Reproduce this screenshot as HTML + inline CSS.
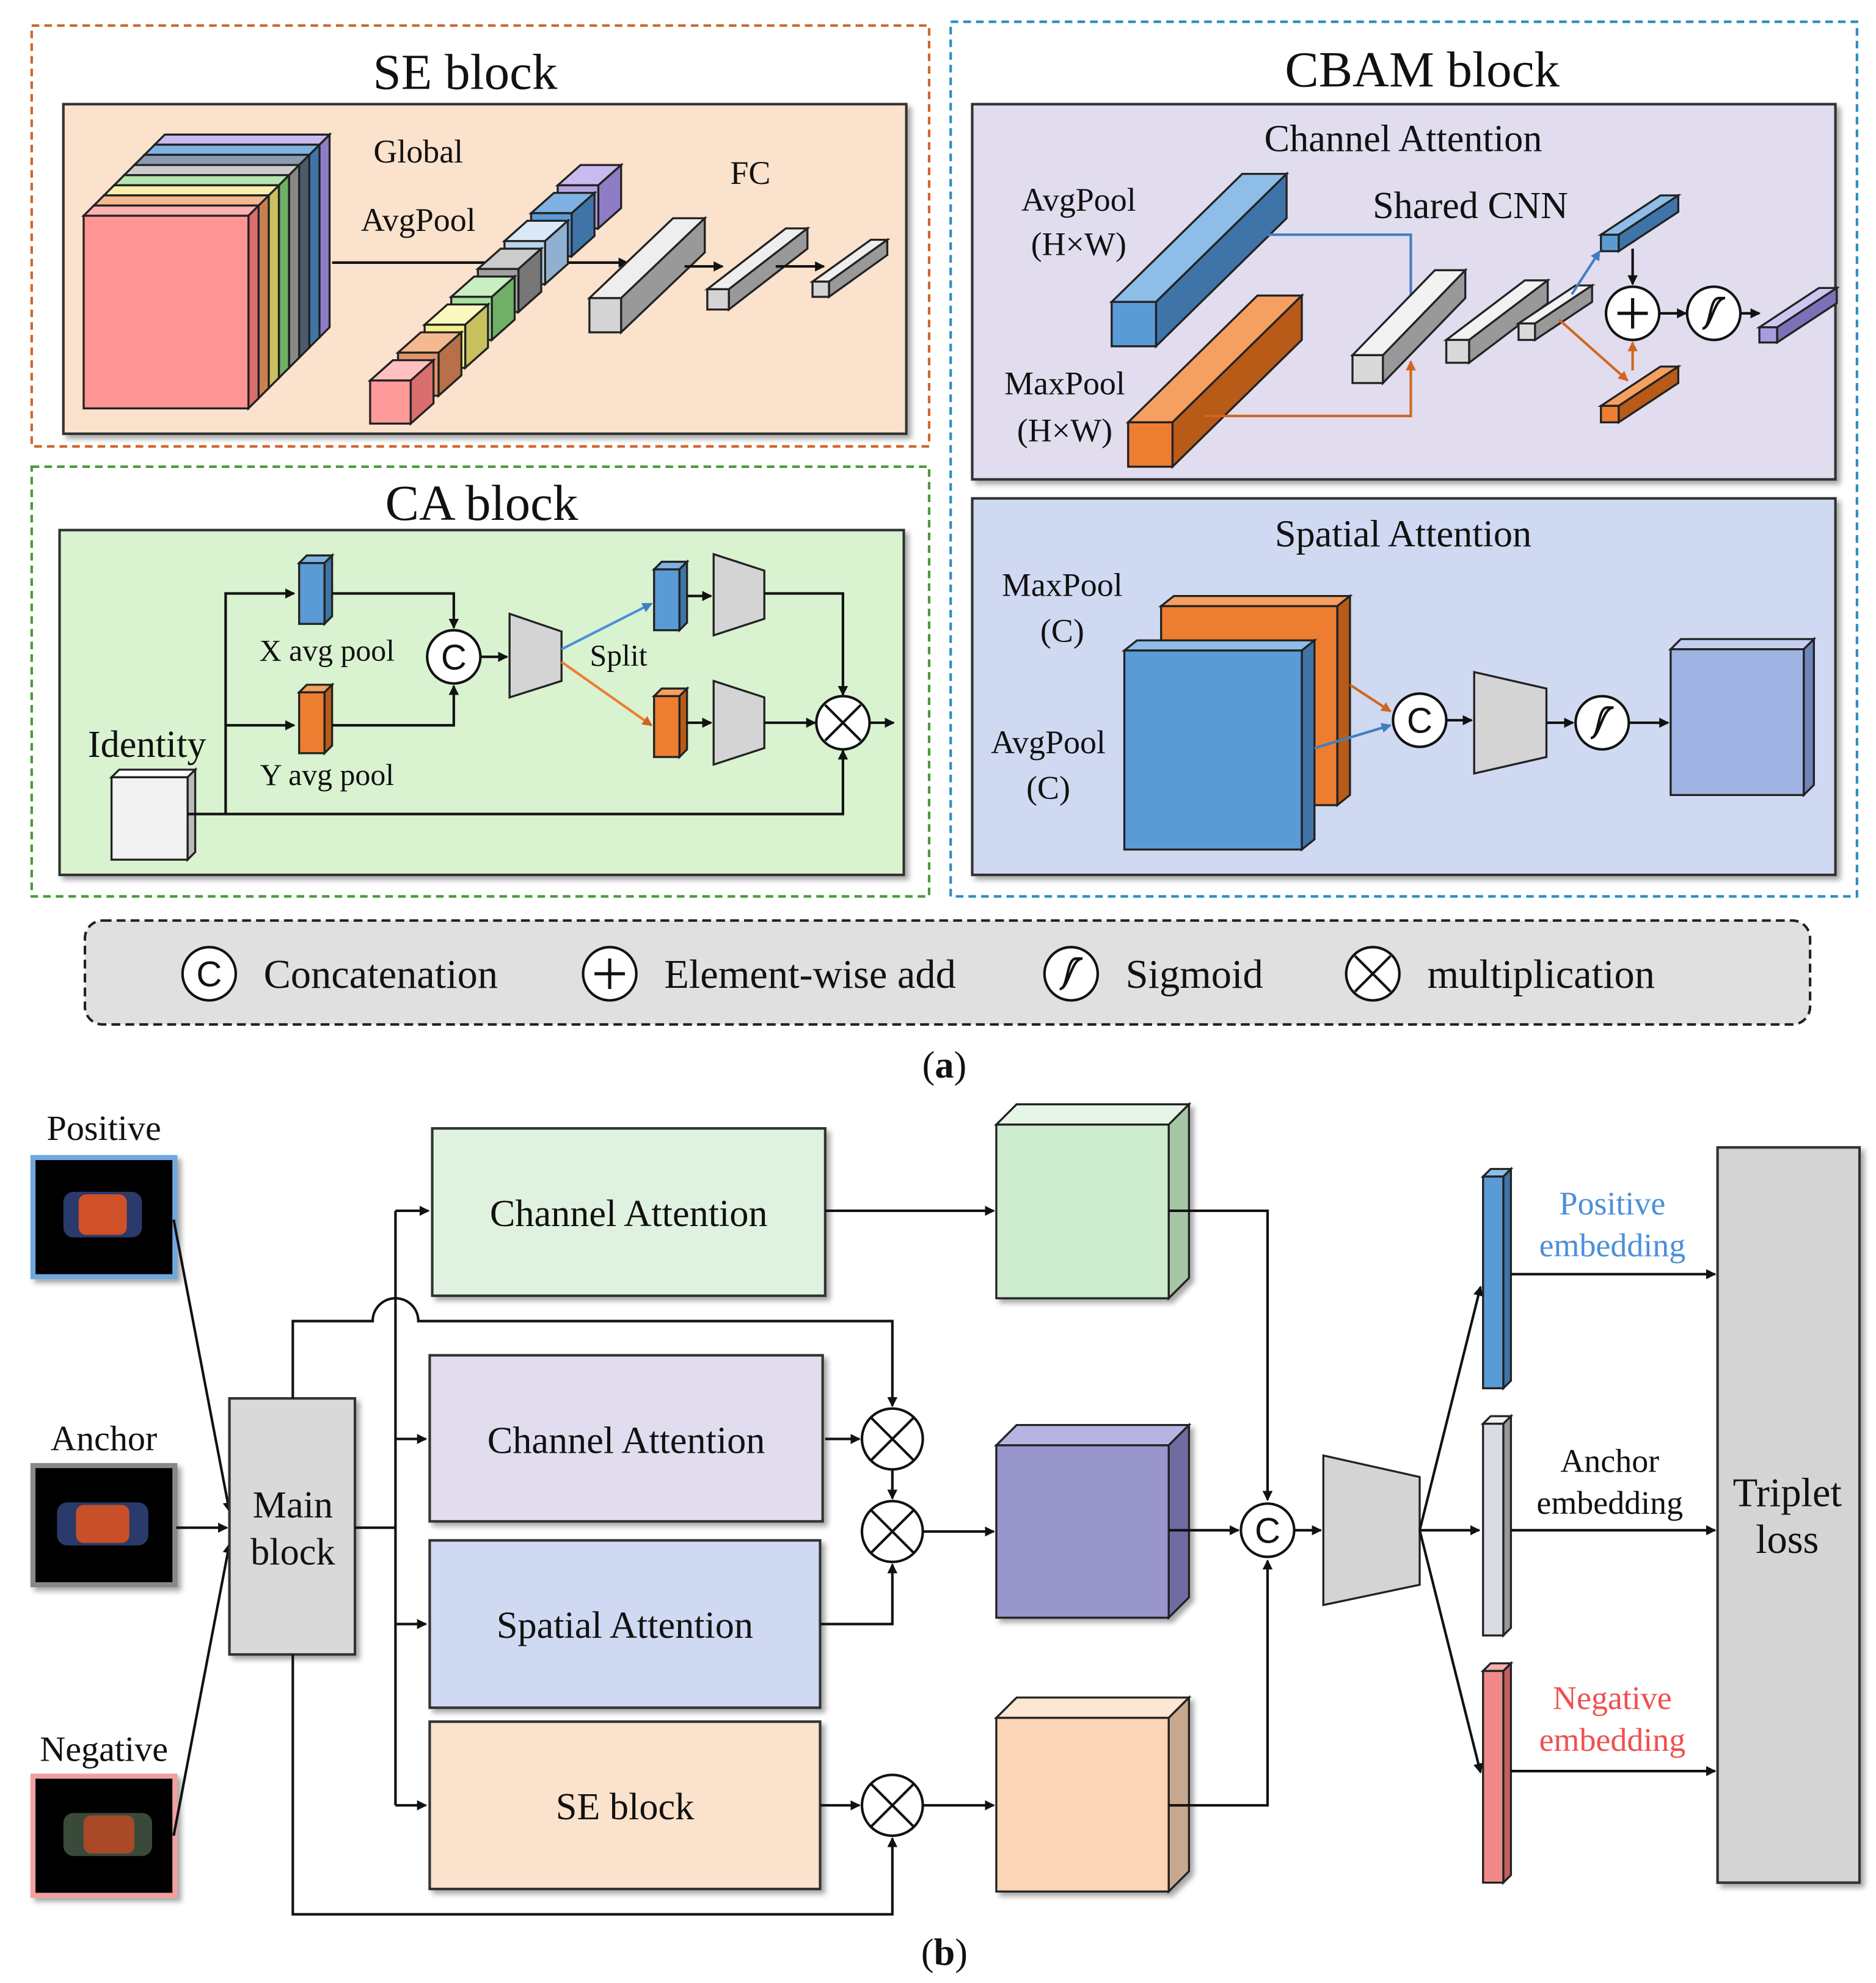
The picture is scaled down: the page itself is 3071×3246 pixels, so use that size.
<!DOCTYPE html>
<html><head><meta charset="utf-8"><style>
html,body{margin:0;padding:0;background:#fff}
svg{display:block}
text{font-family:"Liberation Serif",serif;fill:#111}
.t{font-size:26px;text-anchor:middle}
.h{font-size:40px;text-anchor:middle}
.s{stroke:#222;stroke-width:1.6}
.ln{stroke:#111;stroke-width:2;fill:none}
</style></head><body>
<svg width="3071" height="3246" viewBox="0 0 1480 1564" xmlns="http://www.w3.org/2000/svg">
<defs>
<marker id="a" markerWidth="8" markerHeight="8" refX="7" refY="4" orient="auto" markerUnits="userSpaceOnUse"><path d="M0,0 L8,4 L0,8z" fill="#111"/></marker>
<marker id="ab" markerWidth="8" markerHeight="8" refX="7" refY="4" orient="auto" markerUnits="userSpaceOnUse"><path d="M0,0 L8,4 L0,8z" fill="#3f7fc0"/></marker>
<marker id="ao" markerWidth="8" markerHeight="8" refX="7" refY="4" orient="auto" markerUnits="userSpaceOnUse"><path d="M0,0 L8,4 L0,8z" fill="#d0661e"/></marker>
<filter id="sh" x="-5%" y="-5%" width="115%" height="115%"><feDropShadow dx="3" dy="3" stdDeviation="2" flood-color="#000" flood-opacity="0.35"/></filter>
<g id="cC"><circle r="21" fill="#fff" stroke="#111" stroke-width="2"/><text y="10" text-anchor="middle" style="font-family:'Liberation Sans',sans-serif;font-size:28px">C</text></g>
<g id="cP"><circle r="21" fill="#fff" stroke="#111" stroke-width="2"/><path d="M-12,0H12M0,-12V12" stroke="#111" stroke-width="2.5"/></g>
<g id="cX"><circle r="21" fill="#fff" stroke="#111" stroke-width="2"/><path d="M-14,-14L14,14M14,-14L-14,14" stroke="#111" stroke-width="2"/></g>
<g id="cX2"><circle r="24" fill="#fff" stroke="#111" stroke-width="2"/><path d="M-17,-17L17,17M17,-17L-17,17" stroke="#111" stroke-width="2"/></g>
<g id="cS"><circle r="21" fill="#fff" stroke="#111" stroke-width="2"/><path d="M-9,12 C-2,12 -4,-12 4,-12 M4,-12 C9,-12 9,-12 9,-12 M-9,12 C-2,12 0,-12 9,-12" stroke="#111" stroke-width="2" fill="none"/></g>
</defs>

<!-- SE block -->
<rect x="25" y="20" width="708" height="332" fill="none" stroke="#d0662a" stroke-width="2" stroke-dasharray="6,4"/>
<text class="h" x="367" y="70">SE block</text>
<rect x="50" y="82" width="665" height="260" fill="#fbe2cc" stroke="#333" stroke-width="2" filter="url(#sh)"/>
<g class="s">
<polygon points="252,114 260,106 260,258 252,266" fill="#8e7dc4"/><polygon points="122,114 130,106 260,106 252,114" fill="#c9bbef"/><rect x="122" y="114" width="130" height="152" fill="#b4a4e0"/>
<polygon points="244,122 252,114 252,266 244,274" fill="#3f74a8"/><polygon points="114,122 122,114 252,114 244,122" fill="#7fb2e2"/><rect x="114" y="122" width="130" height="152" fill="#5b9bd5"/>
<polygon points="236,130 244,122 244,274 236,282" fill="#4c5a6e"/><polygon points="106,130 114,122 244,122 236,130" fill="#8d9bb0"/><rect x="106" y="130" width="130" height="152" fill="#6b7a8f"/>
<polygon points="228,138 236,130 236,282 228,290" fill="#888"/><polygon points="98,138 106,130 236,130 228,138" fill="#ccc"/><rect x="98" y="138" width="130" height="152" fill="#aaa"/>
<polygon points="220,146 228,138 228,290 220,298" fill="#6fb066"/><polygon points="90,146 98,138 228,138 220,146" fill="#b5e6ad"/><rect x="90" y="146" width="130" height="152" fill="#92d08a"/>
<polygon points="212,154 220,146 220,298 212,306" fill="#c9c060"/><polygon points="82,154 90,146 220,146 212,154" fill="#f7f0aa"/><rect x="82" y="154" width="130" height="152" fill="#f0e68c"/>
<polygon points="204,162 212,154 212,306 204,314" fill="#c98050"/><polygon points="74,162 82,154 212,154 204,162" fill="#f5b890"/><rect x="74" y="162" width="130" height="152" fill="#e8a070"/>
<polygon points="196,170 204,162 204,314 196,322" fill="#d86e6e"/><polygon points="66,170 74,162 204,162 196,170" fill="#ffb0b0"/><rect x="66" y="170" width="130" height="152" fill="#ff9494"/>
</g>
<text class="t" x="330" y="128">Global</text>
<text class="t" x="330" y="182">AvgPool</text>
<text class="t" x="592" y="145">FC</text>
<line x1="262" y1="207" x2="495" y2="207" class="ln" marker-end="url(#a)"/>
<g class="s">
<polygon points="440,146 472,146 490,130 458,130" fill="#c9bbef"/><polygon points="472,146 490,130 490,164 472,180" fill="#8e7dc4"/><rect x="440" y="146" width="32" height="34" fill="#b4a4e0"/>
<polygon points="419,168 451,168 469,152 437,152" fill="#7fb2e2"/><polygon points="451,168 469,152 469,186 451,202" fill="#3f74a8"/><rect x="419" y="168" width="32" height="34" fill="#5b9bd5"/>
<polygon points="398,190 430,190 448,174 416,174" fill="#dbe8f6"/><polygon points="430,190 448,174 448,208 430,224" fill="#8fb0d0"/><rect x="398" y="190" width="32" height="34" fill="#bcd4ee"/>
<polygon points="377,212 409,212 427,196 395,196" fill="#ccc"/><polygon points="409,212 427,196 427,230 409,246" fill="#777"/><rect x="377" y="212" width="32" height="34" fill="#a0a0a0"/>
<polygon points="356,234 388,234 406,218 374,218" fill="#c8eec2"/><polygon points="388,234 406,218 406,252 388,268" fill="#6fb066"/><rect x="356" y="234" width="32" height="34" fill="#a8e0a0"/>
<polygon points="335,256 367,256 385,240 353,240" fill="#fbf8c0"/><polygon points="367,256 385,240 385,274 367,290" fill="#c9c060"/><rect x="335" y="256" width="32" height="34" fill="#f5f08a"/>
<polygon points="314,278 346,278 364,262 332,262" fill="#f5b890"/><polygon points="346,278 364,262 364,296 346,312" fill="#b87048"/><rect x="314" y="278" width="32" height="34" fill="#e0946a"/>
<polygon points="292,300 324,300 342,284 310,284" fill="#ffc0c0"/><polygon points="324,300 342,284 342,318 324,334" fill="#d86e6e"/><rect x="292" y="300" width="32" height="34" fill="#ff9a9a"/>
<polygon points="465,235 531,172 556,172 490,235" fill="#eee"/><polygon points="490,235 556,172 556,199 490,262" fill="#999"/><rect x="465" y="235" width="25" height="27" fill="#d4d4d4"/>
</g>
<line x1="540" y1="210" x2="570" y2="210" class="ln" marker-end="url(#a)"/>
<g class="s"><polygon points="558,228 620,180 637,180 575,228" fill="#eee"/><polygon points="575,228 637,180 637,196 575,244" fill="#999"/><rect x="558" y="228" width="17" height="16" fill="#d4d4d4"/></g>
<line x1="612" y1="210" x2="650" y2="210" class="ln" marker-end="url(#a)"/>
<g class="s"><polygon points="641,222 687,189 700,189 654,222" fill="#eee"/><polygon points="654,222 700,189 700,201 654,234" fill="#999"/><rect x="641" y="222" width="13" height="12" fill="#d4d4d4"/></g>

<!-- CA block -->
<rect x="25" y="368" width="708" height="339" fill="none" stroke="#4a9a3a" stroke-width="2" stroke-dasharray="6,4"/>
<text class="h" x="380" y="410">CA block</text>
<rect x="47" y="418" width="666" height="272" fill="#d9f2d0" stroke="#333" stroke-width="2" filter="url(#sh)"/>
<text x="116" y="597" style="font-size:30px;text-anchor:middle">Identity</text>
<g class="s"><polygon points="88,613 94,607 154,607 148,613" fill="#fff"/><polygon points="148,613 154,607 154,672 148,678" fill="#bbb"/><rect x="88" y="613" width="60" height="65" fill="#f2f2f2"/></g>
<path d="M148,642 H178 V468 H232" class="ln" marker-end="url(#a)"/>
<path d="M178,572 H232" class="ln" marker-end="url(#a)"/>
<path d="M178,642 H665 V592" class="ln" marker-end="url(#a)"/>
<g class="s"><polygon points="236,444 242,438 262,438 256,444" fill="#7fb2e2"/><polygon points="256,444 262,438 262,486 256,492" fill="#3f74a8"/><rect x="236" y="444" width="20" height="48" fill="#5b9bd5"/>
<polygon points="236,546 242,540 262,540 256,546" fill="#f5a060"/><polygon points="256,546 262,540 262,588 256,594" fill="#b85a18"/><rect x="236" y="546" width="20" height="48" fill="#ed7d31"/></g>
<text class="t" x="258" y="521" style="font-size:24px">X avg  pool</text>
<text class="t" x="258" y="619" style="font-size:24px">Y avg  pool</text>
<path d="M262,468 H358 V495" class="ln" marker-end="url(#a)"/>
<path d="M262,572 H358 V541" class="ln" marker-end="url(#a)"/>
<use href="#cC" x="358" y="518"/>
<line x1="379" y1="518" x2="400" y2="518" class="ln" marker-end="url(#a)"/>
<polygon points="402,484 443,498 443,537 402,550" fill="#d4d4d4" class="s"/>
<line x1="443" y1="512" x2="514" y2="476" stroke="#4a90d9" stroke-width="2" marker-end="url(#ab)"/>
<line x1="443" y1="522" x2="514" y2="572" stroke="#ed7d31" stroke-width="2" marker-end="url(#ao)"/>
<text class="t" x="488" y="525" style="font-size:24px">Split</text>
<g class="s"><polygon points="516,449 522,443 542,443 536,449" fill="#7fb2e2"/><polygon points="536,449 542,443 542,491 536,497" fill="#3f74a8"/><rect x="516" y="449" width="20" height="48" fill="#5b9bd5"/>
<polygon points="516,549 522,543 542,543 536,549" fill="#f5a060"/><polygon points="536,549 542,543 542,591 536,597" fill="#b85a18"/><rect x="516" y="549" width="20" height="48" fill="#ed7d31"/></g>
<line x1="542" y1="470" x2="561" y2="470" class="ln" marker-end="url(#a)"/>
<line x1="542" y1="570" x2="561" y2="570" class="ln" marker-end="url(#a)"/>
<polygon points="563,437 603,450 603,488 563,501" fill="#d4d4d4" class="s"/>
<polygon points="563,537 603,550 603,590 563,603" fill="#d4d4d4" class="s"/>
<path d="M603,468 H665 V548" class="ln" marker-end="url(#a)"/>
<line x1="603" y1="570" x2="643" y2="570" class="ln" marker-end="url(#a)"/>
<use href="#cX" x="665" y="570"/>
<line x1="686" y1="570" x2="705" y2="570" class="ln" marker-end="url(#a)"/>

<!-- CBAM -->
<rect x="750" y="17" width="715" height="690" fill="none" stroke="#2a8fc0" stroke-width="2" stroke-dasharray="6,4"/>
<text class="h" x="1122" y="68">CBAM block</text>
<rect x="767" y="82" width="681" height="296" fill="#e2dcef" stroke="#333" stroke-width="2" filter="url(#sh)"/>
<text class="t" x="1107" y="119" style="font-size:30px">Channel Attention</text>
<text class="t" x="851" y="166">AvgPool</text><text class="t" x="851" y="201">(H×W)</text>
<text class="t" x="840" y="311">MaxPool</text><text class="t" x="840" y="348">(H×W)</text>
<text class="t" x="1160" y="172" style="font-size:30px">Shared CNN</text>
<g class="s">
<polygon points="877,238 980,137 1015,137 912,238" fill="#8ebde8"/><polygon points="912,238 1015,137 1015,172 912,273" fill="#3f74a8"/><rect x="877" y="238" width="35" height="35" fill="#5b9bd5"/>
<polygon points="890,333 992,233 1027,233 925,333" fill="#f5a060"/><polygon points="925,333 1027,233 1027,268 925,368" fill="#b85a18"/><rect x="890" y="333" width="35" height="35" fill="#ed7d31"/>
</g>
<path d="M1000,185 H1113 V244" stroke="#3f7fc0" stroke-width="2" fill="none" marker-end="url(#ab)"/>
<path d="M950,328 H1113 V285" stroke="#d0661e" stroke-width="2" fill="none" marker-end="url(#ao)"/>
<g class="s">
<polygon points="1067,280 1132,213 1156,213 1091,280" fill="#f2f2f2"/><polygon points="1091,280 1156,213 1156,235 1091,302" fill="#999"/><rect x="1067" y="280" width="24" height="22" fill="#d9d9d9"/>
<polygon points="1141,268 1203,221 1221,221 1159,268" fill="#f2f2f2"/><polygon points="1159,268 1221,221 1221,239 1159,286" fill="#999"/><rect x="1141" y="268" width="18" height="18" fill="#d9d9d9"/>
<polygon points="1198,255 1243,225 1256,225 1211,255" fill="#f2f2f2"/><polygon points="1211,255 1256,225 1256,238 1211,268" fill="#999"/><rect x="1198" y="255" width="13" height="13" fill="#d9d9d9"/>
<polygon points="1263,185 1310,154 1324,154 1277,185" fill="#8ebde8"/><polygon points="1277,185 1324,154 1324,167 1277,198" fill="#3f74a8"/><rect x="1263" y="185" width="14" height="13" fill="#5b9bd5"/>
<polygon points="1263,320 1310,289 1324,289 1277,320" fill="#f5a060"/><polygon points="1277,320 1324,289 1324,302 1277,333" fill="#b85a18"/><rect x="1263" y="320" width="14" height="13" fill="#ed7d31"/>
<polygon points="1388,258 1435,227 1449,227 1402,258" fill="#cfc6f0"/><polygon points="1402,258 1449,227 1449,239 1402,270" fill="#7e70b8"/><rect x="1388" y="258" width="14" height="12" fill="#a99be0"/>
</g>
<line x1="1240" y1="232" x2="1262" y2="198" stroke="#3f7fc0" stroke-width="2" marker-end="url(#ab)"/>
<line x1="1230" y1="252" x2="1284" y2="300" stroke="#d0661e" stroke-width="2" marker-end="url(#ao)"/>
<line x1="1288" y1="196" x2="1288" y2="224" class="ln" marker-end="url(#a)"/>
<line x1="1288" y1="292" x2="1288" y2="270" stroke="#d0661e" stroke-width="2" marker-end="url(#ao)"/>
<use href="#cP" x="1288" y="247"/>
<line x1="1309" y1="247" x2="1330" y2="247" class="ln" marker-end="url(#a)"/>
<use href="#cS" x="1352" y="247"/>
<line x1="1373" y1="247" x2="1388" y2="247" class="ln" marker-end="url(#a)"/>

<rect x="767" y="393" width="681" height="297" fill="#cfd9f1" stroke="#333" stroke-width="2" filter="url(#sh)"/>
<text class="t" x="1107" y="431" style="font-size:30px">Spatial Attention</text>
<text class="t" x="838" y="470">MaxPool</text><text class="t" x="838" y="506">(C)</text>
<text class="t" x="827" y="594">AvgPool</text><text class="t" x="827" y="630">(C)</text>
<g class="s">
<polygon points="916,478 926,470 1065,470 1055,478" fill="#f5a060"/><polygon points="1055,478 1065,470 1065,627 1055,635" fill="#b85a18"/><rect x="916" y="478" width="139" height="157" fill="#ed7d31"/>
<polygon points="887,513 897,505 1037,505 1027,513" fill="#8ebde8"/><polygon points="1027,513 1037,505 1037,662 1027,670" fill="#3f74a8"/><rect x="887" y="513" width="140" height="157" fill="#5b9bd5"/>
</g>
<line x1="1065" y1="540" x2="1097" y2="561" stroke="#d0661e" stroke-width="2" marker-end="url(#ao)"/>
<line x1="1037" y1="590" x2="1097" y2="572" stroke="#3f7fc0" stroke-width="2" marker-end="url(#ab)"/>
<use href="#cC" x="1120" y="568"/>
<line x1="1141" y1="568" x2="1161" y2="568" class="ln" marker-end="url(#a)"/>
<polygon points="1163,530 1220,543 1220,597 1163,610" fill="#d4d4d4" class="s"/>
<line x1="1220" y1="570" x2="1241" y2="570" class="ln" marker-end="url(#a)"/>
<use href="#cS" x="1264" y="570"/>
<line x1="1285" y1="570" x2="1316" y2="570" class="ln" marker-end="url(#a)"/>
<g class="s"><polygon points="1318,512 1326,504 1431,504 1423,512" fill="#c4d0f0"/><polygon points="1423,512 1431,504 1431,619 1423,627" fill="#7085b8"/><rect x="1318" y="512" width="105" height="115" fill="#9fb3e3"/></g>

<!-- legend -->
<rect x="67" y="726" width="1361" height="82" rx="14" fill="#e0e0e0" stroke="#222" stroke-width="2" stroke-dasharray="7,4"/>
<use href="#cC" x="165" y="768"/><text x="208" y="779" style="font-size:32px">Concatenation</text>
<use href="#cP" x="481" y="768"/><text x="524" y="779" style="font-size:32px">Element-wise add</text>
<use href="#cS" x="845" y="768"/><text x="888" y="779" style="font-size:32px">Sigmoid</text>
<use href="#cX" x="1083" y="768"/><text x="1126" y="779" style="font-size:32px">multiplication</text>
<text x="745" y="850" style="font-size:30px;text-anchor:middle">(<tspan font-weight="bold">a</tspan>)</text>

<!-- part b -->
<text class="t" x="82" y="899" style="font-size:28px">Positive</text>
<rect x="26" y="913" width="112" height="94" fill="#050505" stroke="#6fa8dc" stroke-width="4" filter="url(#sh)"/>
<rect x="50" y="940" width="62" height="36" rx="8" fill="#2a3a6a"/><rect x="62" y="942" width="38" height="32" rx="6" fill="#d0502a"/>
<text class="t" x="82" y="1144" style="font-size:28px">Anchor</text>
<rect x="26" y="1156" width="112" height="94" fill="#050505" stroke="#888" stroke-width="4" filter="url(#sh)"/>
<rect x="45" y="1185" width="72" height="34" rx="8" fill="#2a3a6a"/><rect x="60" y="1187" width="42" height="30" rx="6" fill="#c85028"/>
<text class="t" x="82" y="1389" style="font-size:28px">Negative</text>
<rect x="26" y="1401" width="112" height="94" fill="#050505" stroke="#f0a0a0" stroke-width="4" filter="url(#sh)"/>
<rect x="50" y="1430" width="70" height="34" rx="8" fill="#3a4a3a"/><rect x="66" y="1432" width="40" height="30" rx="6" fill="#a84a28"/>

<line x1="137" y1="962" x2="181" y2="1192" class="ln" marker-end="url(#a)"/>
<line x1="139" y1="1205" x2="179" y2="1205" class="ln" marker-end="url(#a)"/>
<line x1="137" y1="1448" x2="181" y2="1218" class="ln" marker-end="url(#a)"/>
<rect x="181" y="1103" width="99" height="202" fill="#d9d9d9" stroke="#333" stroke-width="2" filter="url(#sh)"/>
<text class="t" x="231" y="1197" style="font-size:30px">Main</text><text class="t" x="231" y="1234" style="font-size:30px">block</text>

<path d="M280,1205 H312 M312,955 V1424" class="ln"/>
<line x1="312" y1="955" x2="338" y2="955" class="ln" marker-end="url(#a)"/>
<line x1="312" y1="1135" x2="336" y2="1135" class="ln" marker-end="url(#a)"/>
<line x1="312" y1="1281" x2="336" y2="1281" class="ln" marker-end="url(#a)"/>
<line x1="312" y1="1424" x2="336" y2="1424" class="ln" marker-end="url(#a)"/>
<path d="M231,1103 V1042 H294 A18,18 0 0 1 330,1042 H704 V1109" class="ln" marker-end="url(#a)"/>
<path d="M231,1305 V1510 H704 V1450" class="ln" marker-end="url(#a)"/>

<rect x="341" y="890" width="310" height="132" fill="#dff2df" stroke="#333" stroke-width="2" filter="url(#sh)"/>
<text class="t" x="496" y="967" style="font-size:30px">Channel Attention</text>
<rect x="339" y="1069" width="310" height="131" fill="#e2dcef" stroke="#333" stroke-width="2" filter="url(#sh)"/>
<text class="t" x="494" y="1146" style="font-size:30px">Channel Attention</text>
<rect x="339" y="1215" width="308" height="132" fill="#cfd9f1" stroke="#333" stroke-width="2" filter="url(#sh)"/>
<text class="t" x="493" y="1292" style="font-size:30px">Spatial Attention</text>
<rect x="339" y="1358" width="308" height="132" fill="#fbe2cc" stroke="#333" stroke-width="2" filter="url(#sh)"/>
<text class="t" x="493" y="1435" style="font-size:30px">SE block</text>

<line x1="651" y1="1135" x2="678" y2="1135" class="ln" marker-end="url(#a)"/>
<line x1="704" y1="1159" x2="704" y2="1182" class="ln" marker-end="url(#a)"/>
<path d="M647,1281 H704 V1234" class="ln" marker-end="url(#a)"/>
<use href="#cX2" x="704" y="1135"/><use href="#cX2" x="704" y="1208"/><use href="#cX2" x="704" y="1424"/>
<line x1="728" y1="1208" x2="784" y2="1208" class="ln" marker-end="url(#a)"/>
<line x1="647" y1="1424" x2="678" y2="1424" class="ln" marker-end="url(#a)"/>
<line x1="728" y1="1424" x2="784" y2="1424" class="ln" marker-end="url(#a)"/>
<line x1="651" y1="955" x2="784" y2="955" class="ln" marker-end="url(#a)"/>

<g class="s" filter="url(#sh)">
<polygon points="786,887 802,871 938,871 922,887" fill="#e6f6e6"/><polygon points="922,887 938,871 938,1008 922,1024" fill="#a6c6a6"/><rect x="786" y="887" width="136" height="137" fill="#cdeccd"/>
<polygon points="786,1140 802,1124 938,1124 922,1140" fill="#b6b4e0"/><polygon points="922,1140 938,1124 938,1260 922,1276" fill="#6e6ca0"/><rect x="786" y="1140" width="136" height="136" fill="#9896cb"/>
<polygon points="786,1355 802,1339 938,1339 922,1355" fill="#fde6d2"/><polygon points="922,1355 938,1339 938,1476 922,1492" fill="#c8a88c"/><rect x="786" y="1355" width="136" height="137" fill="#fbd5b5"/>
</g>
<path d="M922,955 H1000 V1183" class="ln" marker-end="url(#a)"/>
<line x1="922" y1="1207" x2="977" y2="1207" class="ln" marker-end="url(#a)"/>
<path d="M922,1424 H1000 V1231" class="ln" marker-end="url(#a)"/>
<use href="#cC" x="1000" y="1207"/>
<line x1="1021" y1="1207" x2="1042" y2="1207" class="ln" marker-end="url(#a)"/>
<polygon points="1044,1148 1120,1165 1120,1250 1044,1266" fill="#d4d4d4" class="s"/>
<line x1="1120" y1="1207" x2="1168" y2="1015" class="ln" marker-end="url(#a)"/>
<line x1="1120" y1="1207" x2="1167" y2="1207" class="ln" marker-end="url(#a)"/>
<line x1="1120" y1="1207" x2="1168" y2="1398" class="ln" marker-end="url(#a)"/>
<g class="s">
<polygon points="1170,928 1176,922 1192,922 1186,928" fill="#8ebde8"/><polygon points="1186,928 1192,922 1192,1089 1186,1095" fill="#3f74a8"/><rect x="1170" y="928" width="16" height="167" fill="#5b9bd5"/>
<polygon points="1170,1123 1176,1117 1192,1117 1186,1123" fill="#eef0f3"/><polygon points="1186,1123 1192,1117 1192,1284 1186,1290" fill="#999"/><rect x="1170" y="1123" width="16" height="167" fill="#d9dde3"/>
<polygon points="1170,1318 1176,1312 1192,1312 1186,1318" fill="#f8b0b0"/><polygon points="1186,1318 1192,1312 1192,1479 1186,1485" fill="#c06060"/><rect x="1170" y="1318" width="16" height="167" fill="#f08a8a"/>
</g>
<text class="t" x="1272" y="958" style="fill:#4a90d9">Positive</text><text class="t" x="1272" y="991" style="fill:#4a90d9">embedding</text>
<text class="t" x="1270" y="1161">Anchor</text><text class="t" x="1270" y="1194">embedding</text>
<text class="t" x="1272" y="1348" style="fill:#f05050">Negative</text><text class="t" x="1272" y="1381" style="fill:#f05050">embedding</text>
<line x1="1192" y1="1005" x2="1353" y2="1005" class="ln" marker-end="url(#a)"/>
<line x1="1192" y1="1207" x2="1353" y2="1207" class="ln" marker-end="url(#a)"/>
<line x1="1192" y1="1397" x2="1353" y2="1397" class="ln" marker-end="url(#a)"/>
<rect x="1355" y="905" width="112" height="580" fill="#d4d4d4" stroke="#333" stroke-width="2" filter="url(#sh)"/>
<text class="t" x="1410" y="1188" style="font-size:32px">Triplet</text><text class="t" x="1410" y="1225" style="font-size:32px">loss</text>
<text x="745" y="1550" style="font-size:30px;text-anchor:middle">(<tspan font-weight="bold">b</tspan>)</text>
</svg>
</body></html>
